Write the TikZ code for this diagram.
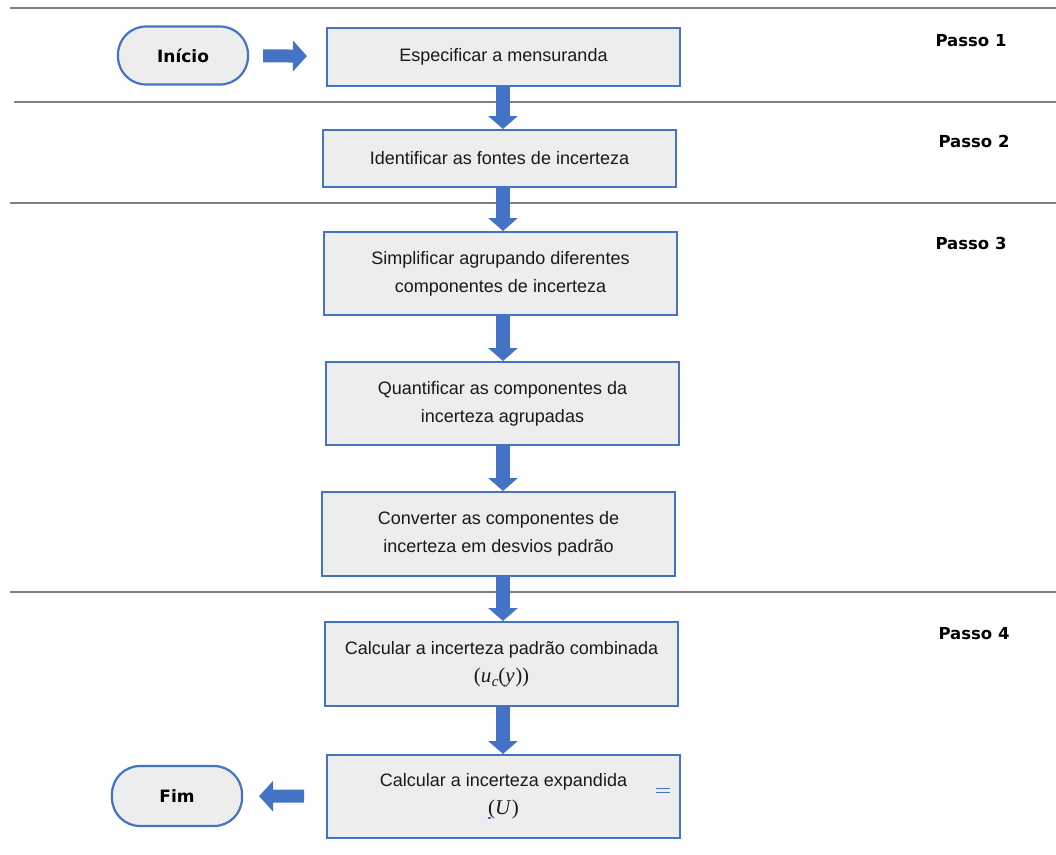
\documentclass[tikz,border=0pt]{standalone}
\usepackage{fontspec}
\setmainfont{Liberation Sans}
\newfontfamily\labelfont{DejaVu Sans}
\newfontfamily\mserif{Liberation Serif}
\usetikzlibrary{arrows.meta}
\definecolor{obl}{HTML}{4472C4}
\definecolor{boxfill}{HTML}{EDEDED}
\definecolor{rulegray}{HTML}{808080}
\newcommand{\mvar}[1]{\textit{#1}\kern0.5pt}
\begin{document}
\begin{tikzpicture}[x=1pt,y=-1pt,
  stepbox/.style={draw=obl, line width=2pt, fill=boxfill, minimum width=353pt, inner sep=0pt, align=center, font=\fontsize{18}{28}\selectfont, text=black!90},
  pill/.style={draw=obl, line width=2.2pt, fill=boxfill, rounded corners=28pt, minimum width=130pt, minimum height=58pt, inner sep=0pt, font=\labelfont\bfseries\fontsize{17}{19}\selectfont},
  passo/.style={font=\labelfont\bfseries\fontsize{16.5}{18}\selectfont, inner sep=0pt},
  vflow/.style={draw=obl, line width=14pt, -{Triangle[length=13pt, width=29pt]}},
  hflow/.style={draw=obl, line width=13pt, -{Triangle[length=14pt, width=30pt]}},
  rule/.style={draw=rulegray, line width=2.2pt}
]
\useasboundingbox (0,0) rectangle (1056,854);
\fill[white] (0,0) rectangle (1056,854);

% swimlane separators
\draw[rule] (10,8) -- (1056,8);
\draw[rule] (14,102) -- (1056,102);
\draw[rule] (10,203) -- (1056,203);
\draw[rule] (10,592) -- (1056,592);

% step labels
\node[passo] (p1) at (971,41) {Passo 1};
\node[passo] (p2) at (974,141) {Passo 2};
\node[passo] (p3) at (971,243) {Passo 3};
\node[passo] (p4) at (974,634) {Passo 4};

% terminals
\node[pill] (inicio) at (183,55.5) {Início};
\node[pill, minimum height=60pt] (fim) at (177,796) {Fim};

% process boxes
\node[stepbox, minimum height=58pt] (b1) at (503.5,57) {Especificar a mensuranda};
\node[stepbox, minimum height=57pt] (b2) at (499.5,158.5) {Identificar as fontes de incerteza};
\node[stepbox, minimum height=83pt] (b3) at (500.5,273.5) {Simplificar agrupando diferentes\\componentes de incerteza};
\node[stepbox, minimum height=83pt] (b4) at (502.5,403.5) {Quantificar as componentes da\\incerteza agrupadas};
\node[stepbox, minimum height=84pt] (b5) at (498.5,534) {Converter as componentes de\\incerteza em desvios padrão};
\node[stepbox, minimum height=84pt] (b6) at (501.5,664) {Calcular a incerteza padrão combinada\\{\mserif\fontsize{21}{24}\selectfont (\mvar{u}\raisebox{-4pt}{\fontsize{15}{15}\selectfont\textit{c}}(\mvar{y}))}};
\node[stepbox, minimum height=83pt] (b7) at (503.5,796.5) {Calcular a incerteza expandida\\{\mserif\fontsize{21}{24}\selectfont (\mvar{U})}};

\coordinate (ax) at (503,0);

% connectors
\draw[hflow, shorten <=14pt, shorten >=19pt] (inicio) -- (b1);
\draw[vflow] (b1.south -| ax) -- (b2.north -| ax);
\draw[vflow] (b2.south -| ax) -- (b3.north -| ax);
\draw[vflow] (b3.south -| ax) -- (b4.north -| ax);
\draw[vflow] (b4.south -| ax) -- (b5.north -| ax);
\draw[vflow] (b5.south -| ax) -- (b6.north -| ax);
\draw[vflow] (b6.south -| ax) -- (b7.north -| ax);
\draw[hflow, shorten <=22pt, shorten >=16pt] (b7) -- (fim);

% small blue editing marks
\draw[obl, line width=1pt] (656,788) -- (670,788) (656,792) -- (670,792);
\draw[obl, line width=1.2pt] (488,818) -- (491,818);
\end{tikzpicture}
\end{document}
